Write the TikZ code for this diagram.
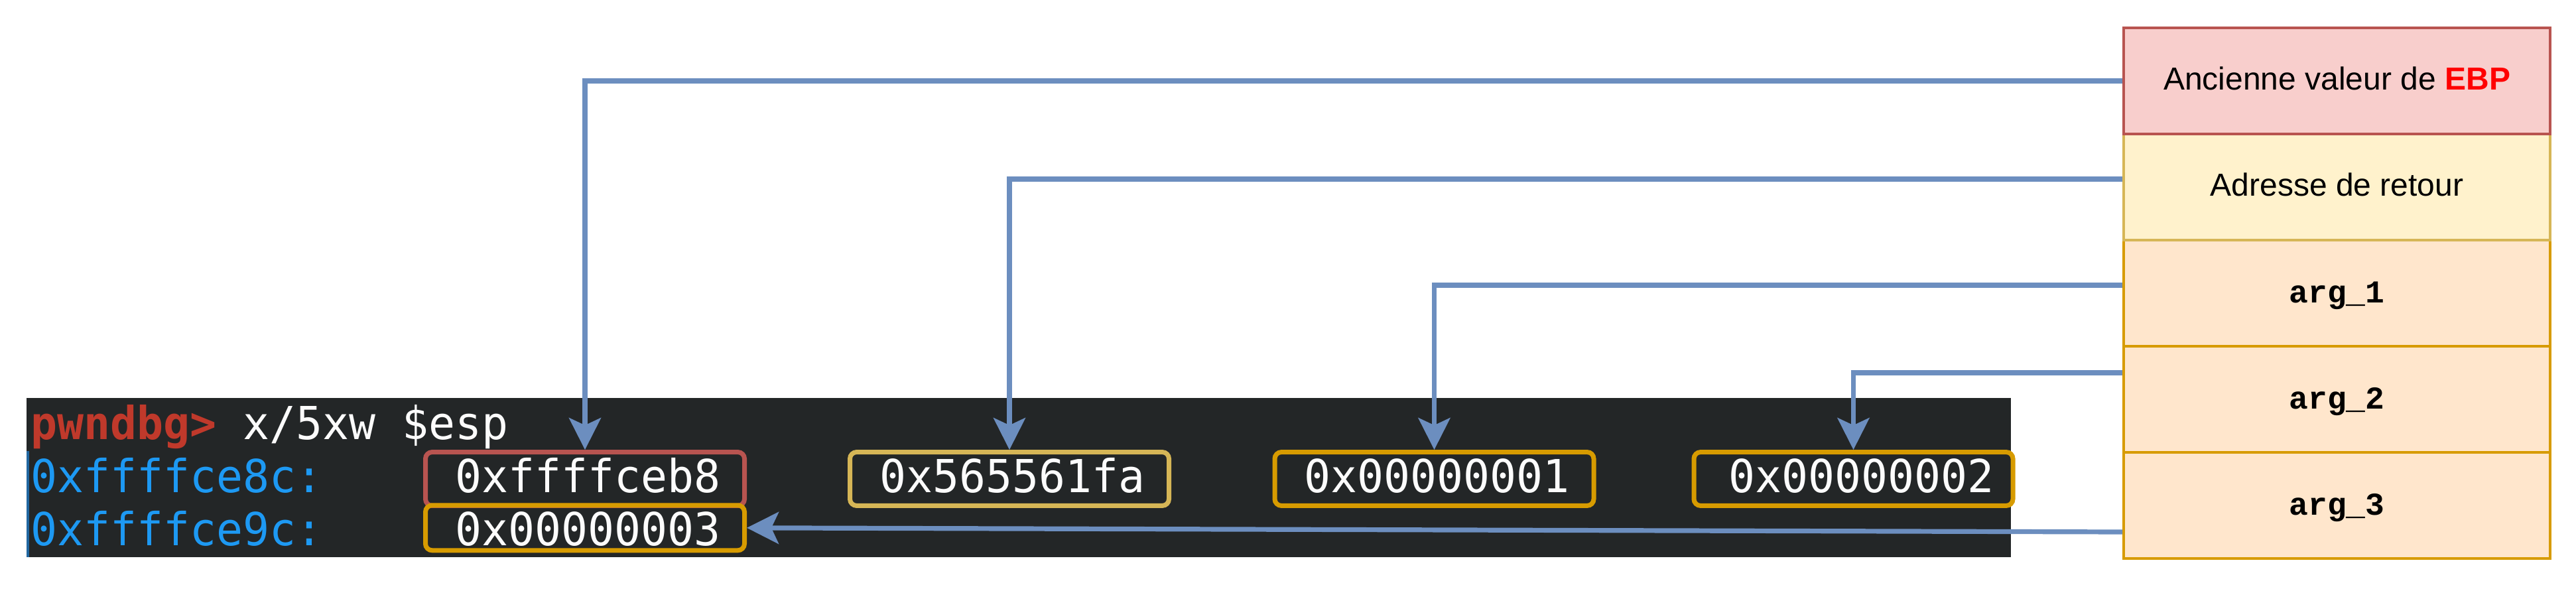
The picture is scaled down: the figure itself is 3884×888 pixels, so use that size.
\documentclass[tikz,border=0pt]{standalone}
\usepackage{fontspec}
\setmainfont{Liberation Sans}
\newfontfamily\termfont[FakeStretch=0.9686]{DejaVu Sans Mono}
\newfontfamily\argfont{Liberation Mono}
\usetikzlibrary{arrows.meta,calc}
\definecolor{termbg}{HTML}{232627}
\definecolor{termfg}{HTML}{FCFCFC}
\definecolor{pwred}{HTML}{C0392B}
\definecolor{addrblue}{HTML}{1D99F3}
\definecolor{barblue}{HTML}{2166A0}
\definecolor{arrowc}{HTML}{6C8EBF}
\definecolor{redS}{HTML}{B85450}
\definecolor{redF}{HTML}{F8CECC}
\definecolor{yelS}{HTML}{D6B656}
\definecolor{yelF}{HTML}{FFF2CC}
\definecolor{orS}{HTML}{D79B00}
\definecolor{orF}{HTML}{FFE6CC}
\definecolor{ebpred}{HTML}{FF0000}
\begin{document}
\begin{tikzpicture}[x=0.25pt,y=-0.25pt,
  stackrow/.style={draw, line width=1pt, minimum width=160.75pt, minimum height=40pt,
    inner sep=0pt, font=\fontsize{12pt}{14pt}\selectfont, text height=7pt, text depth=0pt},
  valbox/.style={draw, rounded corners=2.5pt, line width=1.75pt, minimum width=120.25pt,
    minimum height=20.2pt, inner sep=0pt},
  mono/.style={font=\termfont\fontsize{17.15pt}{20pt}\selectfont, inner sep=0pt,
    anchor=base west, text=termfg},
  arr/.style={draw=arrowc, line width=1.8pt, -{Stealth[length=12pt,width=12pt,inset=2.75pt]}}]
\useasboundingbox (0,0) rectangle (3884,888);

% terminal background
\fill[termbg] (40,600) rectangle (3032,840);
\fill[barblue] (40,680) rectangle (43.5,840);

% terminal text
\node[mono] (cmd) at (46,662) {{\bfseries\color{pwred}pwndbg>} x/5xw \$esp};
\node[mono, text=addrblue] (addr1) at (46,742) {0xffffce8c:};
\node[mono, text=addrblue] (addr2) at (46,822) {0xffffce9c:};

% value boxes
\node[valbox, draw=redS] (v1) at (882,722) {};
\node[valbox, draw=yelS] (v2) at (1522,722) {};
\node[valbox, draw=orS] (v3) at (2162.5,722) {};
\node[valbox, draw=orS] (v4) at (2794.5,722) {};
\node[valbox, draw=orS, minimum height=17pt] (v5) at (882,795.8) {};

\node[mono] (t1) at (686,742) {0xffffceb8};
\node[mono] (t2) at (1326,742) {0x565561fa};
\node[mono] (t3) at (1966,742) {0x00000001};
\node[mono] (t4) at (2606,742) {0x00000002};
\node[mono] (t5) at (686,822) {0x00000003};

% stack
\node[stackrow, draw=orS, fill=orF] (r5) at (3523.5,762) {\argfont\bfseries arg\_3};
\node[stackrow, draw=orS, fill=orF] (r4) at (3523.5,602) {\argfont\bfseries arg\_2};
\node[stackrow, draw=orS, fill=orF] (r3) at (3523.5,442) {\argfont\bfseries arg\_1};
\node[stackrow, draw=yelS, fill=yelF] (r2) at (3523.5,282) {Adresse de retour};
\node[stackrow, draw=redS, fill=redF] (r1) at (3523.5,122) {Ancienne valeur de {\bfseries\color{ebpred}EBP}};

% connectors
\coordinate (c2) at ($(r2.west)+(0,-12)$);
\coordinate (c3) at ($(r3.west)+(0,-12)$);
\coordinate (c4) at ($(r4.west)+(0,-40)$);
\coordinate (c5) at ($(r5.west)+(0,40)$);
\draw[arr] (r1.west) -| (v1.north);
\draw[arr] (c2) -| (v2.north);
\draw[arr] (c3) -| (v3.north);
\draw[arr] (c4) -| (v4.north);
\draw[arr] (c5) -- (v5.east);
\end{tikzpicture}
\end{document}
